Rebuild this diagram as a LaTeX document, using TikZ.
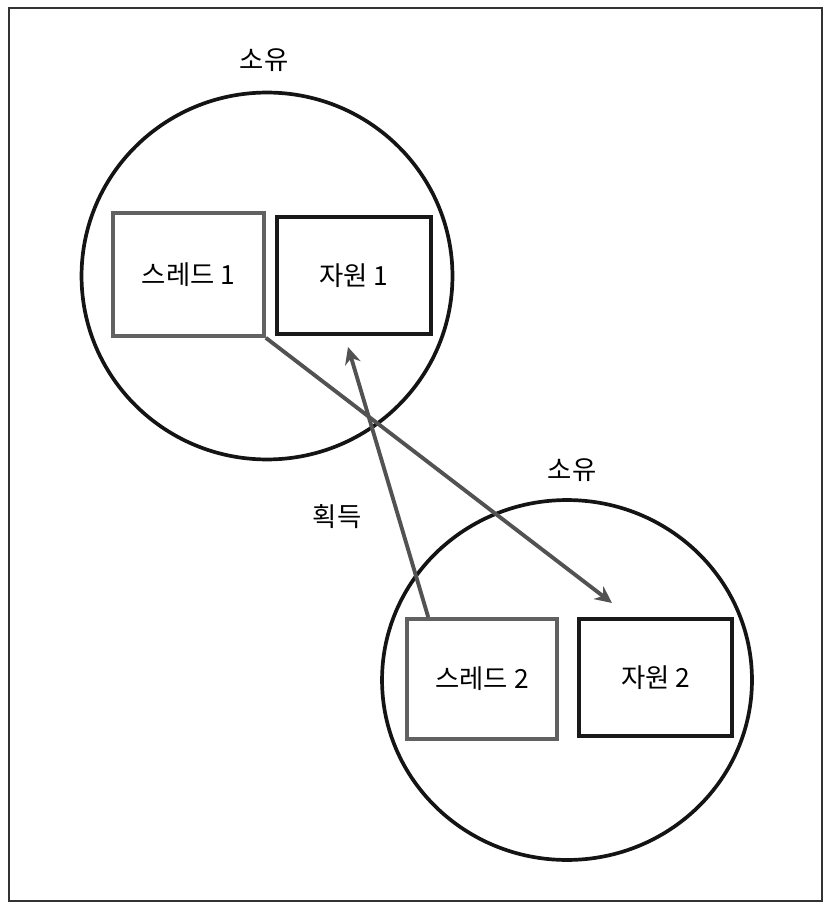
\documentclass[tikz,border=0pt]{standalone}
\usepackage{fontspec}
\newfontfamily\krfont{Noto Sans CJK KR}
\usetikzlibrary{shapes.geometric,arrows.meta,calc}
\begin{document}
\begin{tikzpicture}[x=0.02cm,y=-0.02cm,
  every node/.style={font=\krfont\fontsize{15pt}{17pt}\selectfont},
  owner/.style={ellipse,draw=black!92,line width=2.1pt,inner sep=0pt},
  thread/.style={rectangle,draw=black!62,line width=2.1pt,inner sep=0pt},
  resource/.style={rectangle,draw=black!90,line width=2.6pt,inner sep=0pt},
  lbl/.style={inner sep=0pt},
  link/.style={draw=black!68,line width=2.2pt,-{Stealth[length=0.34cm,width=0.32cm,inset=0.11cm]}}]
\useasboundingbox (0,0) rectangle (827,911);
\draw[line width=0.9pt,black!80] (9,8) rectangle (822,901);
% circles
\node[owner,minimum width=7.42cm,minimum height=7.34cm] (c1) at (267,276) {};
\node[owner,minimum width=7.40cm,minimum height=7.20cm] (c2) at (567,680) {};
% labels
\node[lbl] (own1) at (264,60) {소유};
\node[lbl] (own2) at (572,470) {소유};
\node[lbl] (acq) at (337,517) {획득};
% boxes
\node[thread,minimum width=3.02cm,minimum height=2.46cm] (t1) at (188.5,274.5) {스레드 1};
\node[resource,minimum width=3.08cm,minimum height=2.34cm] (r1) at (354,275.5) {자원 1};
\node[thread,minimum width=3.00cm,minimum height=2.40cm] (t2) at (482,679) {스레드 2};
\node[resource,minimum width=3.06cm,minimum height=2.34cm] (r2) at (655.5,677.5) {자원 2};
% arrows
\coordinate (a1end) at (612,603);
\coordinate (a2end) at (348,347);
\draw[link] (t1.south east) -- (a1end);
\draw[link] ($(t2.north west)!0.15!(t2.north east)$) -- (a2end);
\end{tikzpicture}
\end{document}
